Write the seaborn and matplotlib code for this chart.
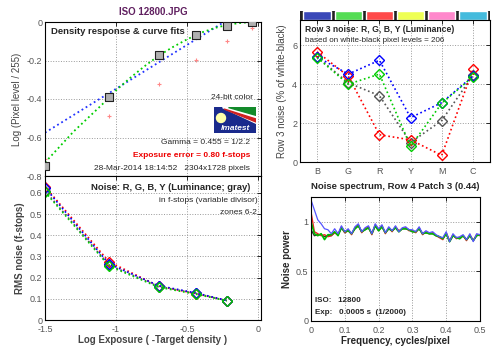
import numpy as np
import pandas as pd
import matplotlib
matplotlib.use('Agg')
import matplotlib.pyplot as plt
from matplotlib.patches import Rectangle, Circle, Polygon
import seaborn as sns

# ---- data: density response ----
zone_x = [-1.5, -1.05, -0.70, -0.44, -0.22, -0.04]
density_y = [-0.748, -0.39, -0.171, -0.068, -0.021, 0.0]
pink_y = [-0.71, -0.488, -0.32, -0.197, -0.10, -0.03]
blue_fit_x = [-1.5, -0.24]
blue_fit_y = [-0.575, 0.0]
green_fit_x = [-1.5, -1.4, -1.3, -1.2, -1.1, -1.0, -0.9, -0.8, -0.7, -0.6,
               -0.5, -0.4, -0.3, -0.2, -0.1, 0.0]
green_fit_y = [-0.73, -0.65, -0.57, -0.50, -0.43, -0.355, -0.29, -0.23, -0.175,
               -0.13, -0.09, -0.055, -0.03, -0.012, -0.003, 0.0]

# ---- data: RMS noise in f-stops ----
noise_fs = {
    'Y': [0.61, 0.26, 0.158, 0.126, 0.091],
    'R': [0.63, 0.275, 0.16, 0.125, 0.092],
    'B': [0.625, 0.265, 0.162, 0.128, 0.092],
    'G': [0.605, 0.255, 0.155, 0.122, 0.091],
}
noise_fs_x = zone_x[:5]

# ---- data: row 3 noise ----
patches = ['B', 'G', 'R', 'Y', 'M', 'C']
row3 = {
    'Y': [5.40, 4.07, 3.41, 1.00, 2.13, 4.45],
    'R': [5.66, 4.41, 1.40, 1.14, 0.34, 4.76],
    'B': [5.40, 4.52, 5.23, 2.28, 3.05, 4.41],
    'G': [5.37, 4.00, 4.52, 0.80, 3.02, 4.38],
}
patch_colors = ['#3a48b8', '#55dd55', '#ff4a4a', '#eeff55', '#ff88cc', '#44bbdd']

# ---- data: noise spectrum ----
freq = np.round(np.arange(51) * 0.01, 2)
spec_b = [1.22, 1.12, 1.02, 0.98, 0.93, 0.92, 0.88, 0.93, 0.88, 0.96,
          0.90, 0.93, 0.88, 0.95, 0.98, 0.90, 0.94, 0.96, 0.88, 0.98,
          0.93, 0.97, 0.89, 0.95, 0.91, 0.96, 0.90, 0.94, 0.95, 0.92,
          0.92, 0.90, 0.95, 0.88, 0.91, 0.89, 0.90, 0.87, 0.85, 0.84,
          0.90, 0.80, 0.88, 0.84, 0.85, 0.87, 0.82, 0.88, 0.80, 0.88, 0.87]
spec_r = [1.10, 0.90, 0.88, 0.86, 0.87, 0.85, 0.86, 0.89, 0.87, 0.95,
          0.89, 0.92, 0.87, 0.94, 0.97, 0.89, 0.93, 0.95, 0.87, 0.97,
          0.92, 0.96, 0.88, 0.94, 0.90, 0.95, 0.91, 0.93, 0.94, 0.91,
          0.91, 0.89, 0.94, 0.87, 0.90, 0.88, 0.89, 0.86, 0.84, 0.82,
          0.89, 0.81, 0.87, 0.83, 0.84, 0.86, 0.81, 0.87, 0.81, 0.87, 0.86]
spec_g = [1.00, 0.88, 0.86, 0.88, 0.82, 0.87, 0.87, 0.90, 0.86, 0.94,
          0.90, 0.91, 0.88, 0.93, 0.96, 0.90, 0.92, 0.94, 0.88, 0.96,
          0.91, 0.95, 0.89, 0.93, 0.91, 0.94, 0.90, 0.93, 0.93, 0.92,
          0.90, 0.90, 0.93, 0.88, 0.89, 0.88, 0.88, 0.86, 0.85, 0.83,
          0.88, 0.80, 0.86, 0.84, 0.83, 0.86, 0.82, 0.86, 0.81, 0.86, 0.87]
spec_k = [0.92, 0.86, 0.87, 0.87, 0.85, 0.86, 0.86, 0.89, 0.87, 0.94,
          0.89, 0.91, 0.88, 0.93, 0.96, 0.90, 0.92, 0.94, 0.88, 0.96,
          0.91, 0.95, 0.89, 0.93, 0.91, 0.94, 0.90, 0.93, 0.93, 0.92,
          0.90, 0.90, 0.93, 0.88, 0.89, 0.88, 0.88, 0.86, 0.85, 0.83,
          0.88, 0.80, 0.86, 0.84, 0.83, 0.86, 0.82, 0.86, 0.81, 0.86, 0.87]

line_colors = {'R': '#ff0000', 'G': '#00cc00', 'B': '#0000ff', 'Y': '#555555'}

sns.set_style('white')
plt.rcParams['font.family'] = ['Liberation Sans', 'DejaVu Sans']
plt.rcParams['font.size'] = 6.5

W, H = 500, 352
fig = plt.figure(figsize=(5, 3.52), dpi=100)


def rect(x0, y0, x1, y1):
    return [x0 / W, 1 - y1 / H, (x1 - x0) / W, (y1 - y0) / H]


def ftext(x, y, s, **kw):
    fig.text(x / W, 1 - y / H, s, va='center', **kw)


def style_axes(ax):
    for sp in ax.spines.values():
        sp.set_color('black')
        sp.set_linewidth(0.8)
    ax.tick_params(direction='in', length=3, width=0.7, top=True, right=True,
                   labelsize=6.5, labelcolor='#555555', pad=2)
    ax.tick_params(axis='x', pad=3.5)
    ax.grid(True, linestyle=':', color='#999999', linewidth=0.7)
    ax.set_axisbelow(True)


# ---- top left: density response ----
ax1 = fig.add_axes(rect(45, 22, 261, 176))
style_axes(ax1)
sns.lineplot(x=blue_fit_x, y=blue_fit_y, ax=ax1, color='#2233ff', linestyle=':', lw=1.3)
sns.lineplot(x=green_fit_x, y=green_fit_y, ax=ax1, color='#00cc00', linestyle=':', lw=1.3)
sns.scatterplot(x=zone_x, y=pink_y, ax=ax1, marker='+', color='#ff8888', s=10, linewidth=0.8)
sns.scatterplot(x=zone_x, y=density_y, ax=ax1, marker='s', color='#b0b0b0',
                edgecolor='#222222', linewidth=0.8, s=30, zorder=5)
ax1.set_xlim(-1.5, 0.02)
ax1.set_ylim(-0.8, 0)
ax1.set_xticks([-1.5, -1, -0.5, 0])
ax1.set_xticklabels([])
ax1.set_yticks([-0.8, -0.6, -0.4, -0.2, 0])
ax1.set_yticklabels(['-0.8', '-0.6', '-0.4', '-0.2', '0'])
ax1.set_ylabel('Log (Pixel level / 255)', color='#444444', fontsize=7, labelpad=3)
ax1.set_title('ISO 12800.JPG', color='#602060', fontweight='bold', fontsize=7, pad=5)

# Imatest logo
lg = fig.add_axes(rect(214, 107, 256, 133))
lg.set_xlim(0, 42)
lg.set_ylim(0, 26)
lg.axis('off')
lg.add_patch(Rectangle((0, 0), 42, 26, color='#1a2a8c'))
lg.add_patch(Polygon([[8, 26], [42, 26], [42, 10]], color='white'))
lg.add_patch(Polygon([[14, 26], [42, 26], [42, 18]], color='#138a2a'))
lg.add_patch(Polygon([[10, 24], [42, 14], [42, 11]], color='#d02020'))
lg.add_patch(Circle((7, 15), 4.5, color='#ffffaa'))
lg.text(21, 5, 'Imatest', color='white', fontsize=6, fontweight='bold',
        style='italic', ha='center', va='center')

ftext(51, 32, 'Density response & curve fits', fontweight='bold', fontsize=6.8)
ftext(253, 98, '24-bit color', ha='right', fontsize=6)
ftext(250, 143, 'Gamma = 0.455 = 1/2.2', ha='right', fontsize=6)
ftext(250, 156, 'Exposure error = 0.80 f-stops', ha='right', fontsize=6,
      color='#ee0000', fontweight='bold')
ftext(250, 168, '28-Mar-2014 18:14:52   2304x1728 pixels', ha='right', fontsize=6)

# ---- bottom left: noise in f-stops ----
ax2 = fig.add_axes(rect(45, 176, 261, 320))
style_axes(ax2)
for ch in ['Y', 'R', 'B', 'G']:
    sns.lineplot(x=noise_fs_x, y=noise_fs[ch], ax=ax2, color=line_colors[ch],
                 linestyle=':', lw=1.2, marker='D', markersize=5,
                 markerfacecolor='none', markeredgecolor=line_colors[ch],
                 markeredgewidth=1.0)
ax2.set_xlim(-1.5, 0.02)
ax2.set_ylim(0, 0.68)
ax2.set_xticks([-1.5, -1, -0.5, 0])
ax2.set_xticklabels(['-1.5', '-1', '-0.5', '0'])
ax2.set_yticks([0, 0.1, 0.2, 0.3, 0.4, 0.5, 0.6])
ax2.set_yticklabels(['0', '0.1', '0.2', '0.3', '0.4', '0.5', '0.6'])
ax2.set_ylabel('RMS noise (f-stops)', color='#444444', fontsize=7,
               fontweight='bold', labelpad=3)
ax2.set_xlabel('Log Exposure ( -Target density )', color='#444444', fontsize=7,
               fontweight='bold', labelpad=1)

ftext(91, 187, 'Noise: R, G, B, Y (Luminance; gray)', fontweight='bold', fontsize=6.8)
ftext(258, 201, 'in f-stops (variable divisor)', ha='right', fontsize=6)
ftext(257, 213, 'zones 6-2', ha='right', fontsize=6)

# ---- top right: colour patch strip ----
axc = fig.add_axes(rect(300, 11, 490, 20))
axc.set_facecolor('#222222')
axc.bar(range(len(patches)), [1] * len(patches), width=0.88, color=patch_colors)
axc.set_xlim(-0.55, 5.55)
axc.set_ylim(0, 1)
axc.set_xticks([])
axc.set_yticks([])
for sp in axc.spines.values():
    sp.set_visible(False)

# ---- top right: row 3 noise ----
ax3 = fig.add_axes(rect(300, 20, 490, 162))
style_axes(ax3)
xpos = np.arange(len(patches))
for ch in ['Y', 'R', 'B', 'G']:
    sns.lineplot(x=xpos, y=row3[ch], ax=ax3, color=line_colors[ch], sort=False,
                 linestyle=':', lw=1.2, marker='D', markersize=5,
                 markerfacecolor='none', markeredgecolor=line_colors[ch],
                 markeredgewidth=1.0)
ax3.set_xlim(-0.55, 5.55)
ax3.set_ylim(0, 7.3)
ax3.set_xticks(xpos)
ax3.set_xticklabels(patches)
ax3.set_yticks([0, 2, 4, 6])
ax3.set_yticklabels(['0', '2', '4', '6'])
ax3.set_ylabel('Row 3 noise (% of white-black)', color='#444444', fontsize=7, labelpad=4)

ftext(305, 30, 'Row 3 noise: R, G, B, Y (Luminance)', fontweight='bold', fontsize=6.2)
ftext(305, 40, 'based on white-black pixel levels = 206', fontsize=5.8)

# ---- bottom right: noise spectrum ----
ax4 = fig.add_axes(rect(311, 197, 480, 321))
style_axes(ax4)
sns.lineplot(x=freq, y=spec_k, ax=ax4, color='#333333', lw=1.0)
sns.lineplot(x=freq, y=spec_r, ax=ax4, color='#ee2222', lw=1.0)
sns.lineplot(x=freq, y=spec_g, ax=ax4, color='#00bb00', lw=1.2)
sns.lineplot(x=freq, y=spec_b, ax=ax4, color='#5555ff', lw=0.9)
ax4.set_xlim(0, 0.5)
ax4.set_ylim(0, 1.25)
ax4.set_xticks([0, 0.1, 0.2, 0.3, 0.4, 0.5])
ax4.set_xticklabels(['0', '0.1', '0.2', '0.3', '0.4', '0.5'])
ax4.set_yticks([0, 0.5, 1])
ax4.set_yticklabels(['0', '0.5', '1'])
ax4.set_xlabel('Frequency, cycles/pixel', fontsize=7, fontweight='bold', labelpad=1)
ax4.set_ylabel('Noise power', fontsize=7, fontweight='bold', labelpad=3)
ax4.set_title('Noise spectrum, Row 4 Patch 3 (0.44)', fontsize=6.8,
              fontweight='bold', pad=6)

ftext(315, 300, 'ISO:   12800', fontweight='bold', fontsize=5.8)
ftext(315, 312, 'Exp:   0.0005 s  (1/2000)', fontweight='bold', fontsize=5.8)

fig.savefig('out.png', dpi=100, facecolor='white')
